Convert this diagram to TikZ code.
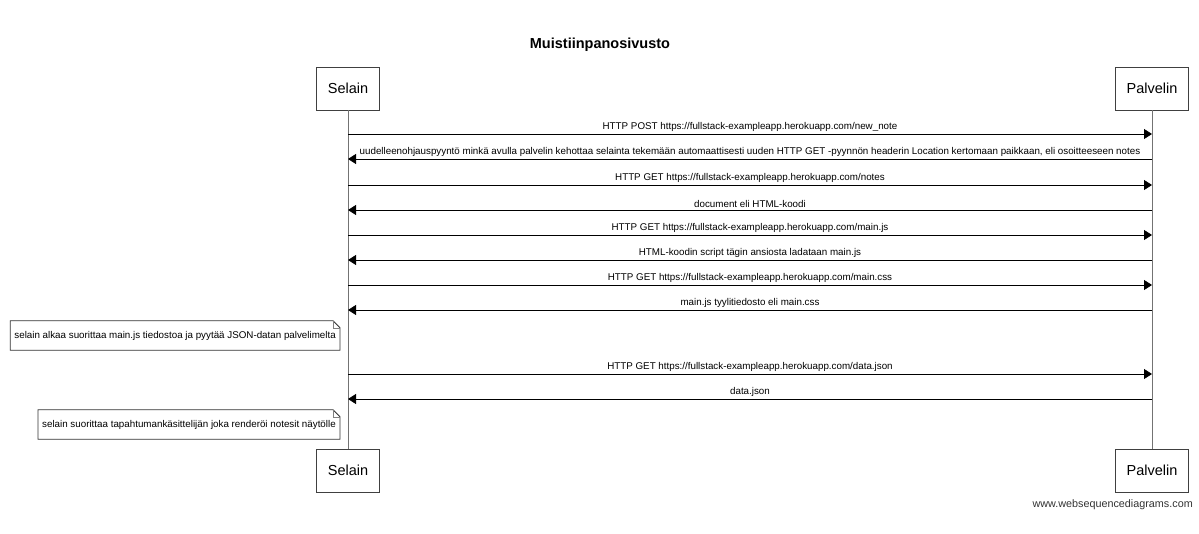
\documentclass[tikz,border=0pt]{standalone}
\usepackage{fontspec}
\setmainfont{Liberation Sans}
\usetikzlibrary{arrows.meta,positioning}

\tikzset{
  actor/.style={draw=black!75, line width=0.8pt, minimum height=43pt, inner xsep=11pt, font=\fontsize{14.5}{17}\selectfont},
  lifeline/.style={draw=black!55, line width=0.8pt},
  msg/.style={line width=0.8pt, -{Triangle[length=8pt,width=10pt]}},
  lbl/.style={above, inner sep=2pt, font=\fontsize{9.8}{12}\selectfont},
  note/.style={inner xsep=4pt, minimum height=29pt, font=\fontsize{9.8}{12}\selectfont},
  notebox/.style={draw=black!80, line width=0.8pt},
}

\begin{document}
\begin{tikzpicture}[x=1pt,y=-1pt]
        \useasboundingbox (0,0) rectangle (1199,534);
        % Title
        \node[font=\bfseries\fontsize{14.5}{17}\selectfont] (title) at (600,45) {Muistiinpanosivusto};
        % Participants
        \node[actor] (sel) at (348,88.5) {Selain};
        \node[actor] (pal) at (1152,88.5) {Palvelin};
        \node[actor] (selEnd) at (348,470.5) {Selain};
        \node[actor] (palEnd) at (1152,470.5) {Palvelin};
        % Lifelines
        \draw[lifeline] (sel) -- (selEnd);
        \draw[lifeline] (pal) -- (palEnd);

        % new_note
        \coordinate (s1) at (348,134);
        \coordinate (p1) at (1152,134);
        \draw[msg] (s1) -- node[lbl] {HTTP POST https://fullstack-exampleapp.herokuapp.com/new\_note} (p1);
        % Redirect
        \coordinate (s2) at (348,159);
        \coordinate (p2) at (1152,159);
        \draw[msg] (p2) -- node[lbl] {uudelleenohjauspyyntö minkä avulla palvelin kehottaa selainta tekemään automaattisesti uuden HTTP GET -pyynnön headerin Location kertomaan paikkaan, eli osoitteeseen notes} (s2);
        % notes
        \coordinate (s3) at (348,185);
        \coordinate (p3) at (1152,185);
        \draw[msg] (s3) -- node[lbl] {HTTP GET https://fullstack-exampleapp.herokuapp.com/notes} (p3);
        \coordinate (s4) at (348,210);
        \coordinate (p4) at (1152,210);
        \draw[msg] (p4) -- node[lbl] {document eli HTML-koodi} (s4);
        % main.js
        \coordinate (s5) at (348,235);
        \coordinate (p5) at (1152,235);
        \draw[msg] (s5) -- node[lbl] {HTTP GET https://fullstack-exampleapp.herokuapp.com/main.js} (p5);
        \coordinate (s6) at (348,260);
        \coordinate (p6) at (1152,260);
        \draw[msg] (p6) -- node[lbl] {HTML-koodin script tägin ansiosta ladataan main.js} (s6);
        % main.css
        \coordinate (s7) at (348,285);
        \coordinate (p7) at (1152,285);
        \draw[msg] (s7) -- node[lbl] {HTTP GET https://fullstack-exampleapp.herokuapp.com/main.css} (p7);
        \coordinate (s8) at (348,310);
        \coordinate (p8) at (1152,310);
        \draw[msg] (p8) -- node[lbl] {main.js tyylitiedosto eli main.css} (s8);

        % Note 1
        \node[note, anchor=east] (n1) at (340,335.5) {selain alkaa suorittaa main.js tiedostoa ja pyytää JSON-datan palvelimelta};
        \draw[notebox] (n1.south west) -- (n1.north west) -- ([xshift=-7pt]n1.north east) -- ([yshift=-7pt]n1.north east) -- (n1.south east) -- cycle;
        \draw[black!50] ([xshift=-7pt]n1.north east) |- ([yshift=-7pt]n1.north east);

        % data.json
        \coordinate (s9) at (348,374);
        \coordinate (p9) at (1152,374);
        \draw[msg] (s9) -- node[lbl] {HTTP GET https://fullstack-exampleapp.herokuapp.com/data.json} (p9);
        \coordinate (s10) at (348,399);
        \coordinate (p10) at (1152,399);
        \draw[msg] (p10) -- node[lbl] {data.json} (s10);

        % Note 2
        \node[note, anchor=east] (n2) at (340,424.5) {selain suorittaa tapahtumankäsittelijän joka renderöi notesit näytölle};
        \draw[notebox] (n2.south west) -- (n2.north west) -- ([xshift=-7pt]n2.north east) -- ([yshift=-7pt]n2.north east) -- (n2.south east) -- cycle;
        \draw[black!50] ([xshift=-7pt]n2.north east) |- ([yshift=-7pt]n2.north east);

        % Watermark
        \node[anchor=east, inner sep=0pt, text=black!80, font=\fontsize{10.8}{12}\selectfont] (wsd) at (1193,505) {www.websequencediagrams.com};
\end{tikzpicture}
\end{document}
